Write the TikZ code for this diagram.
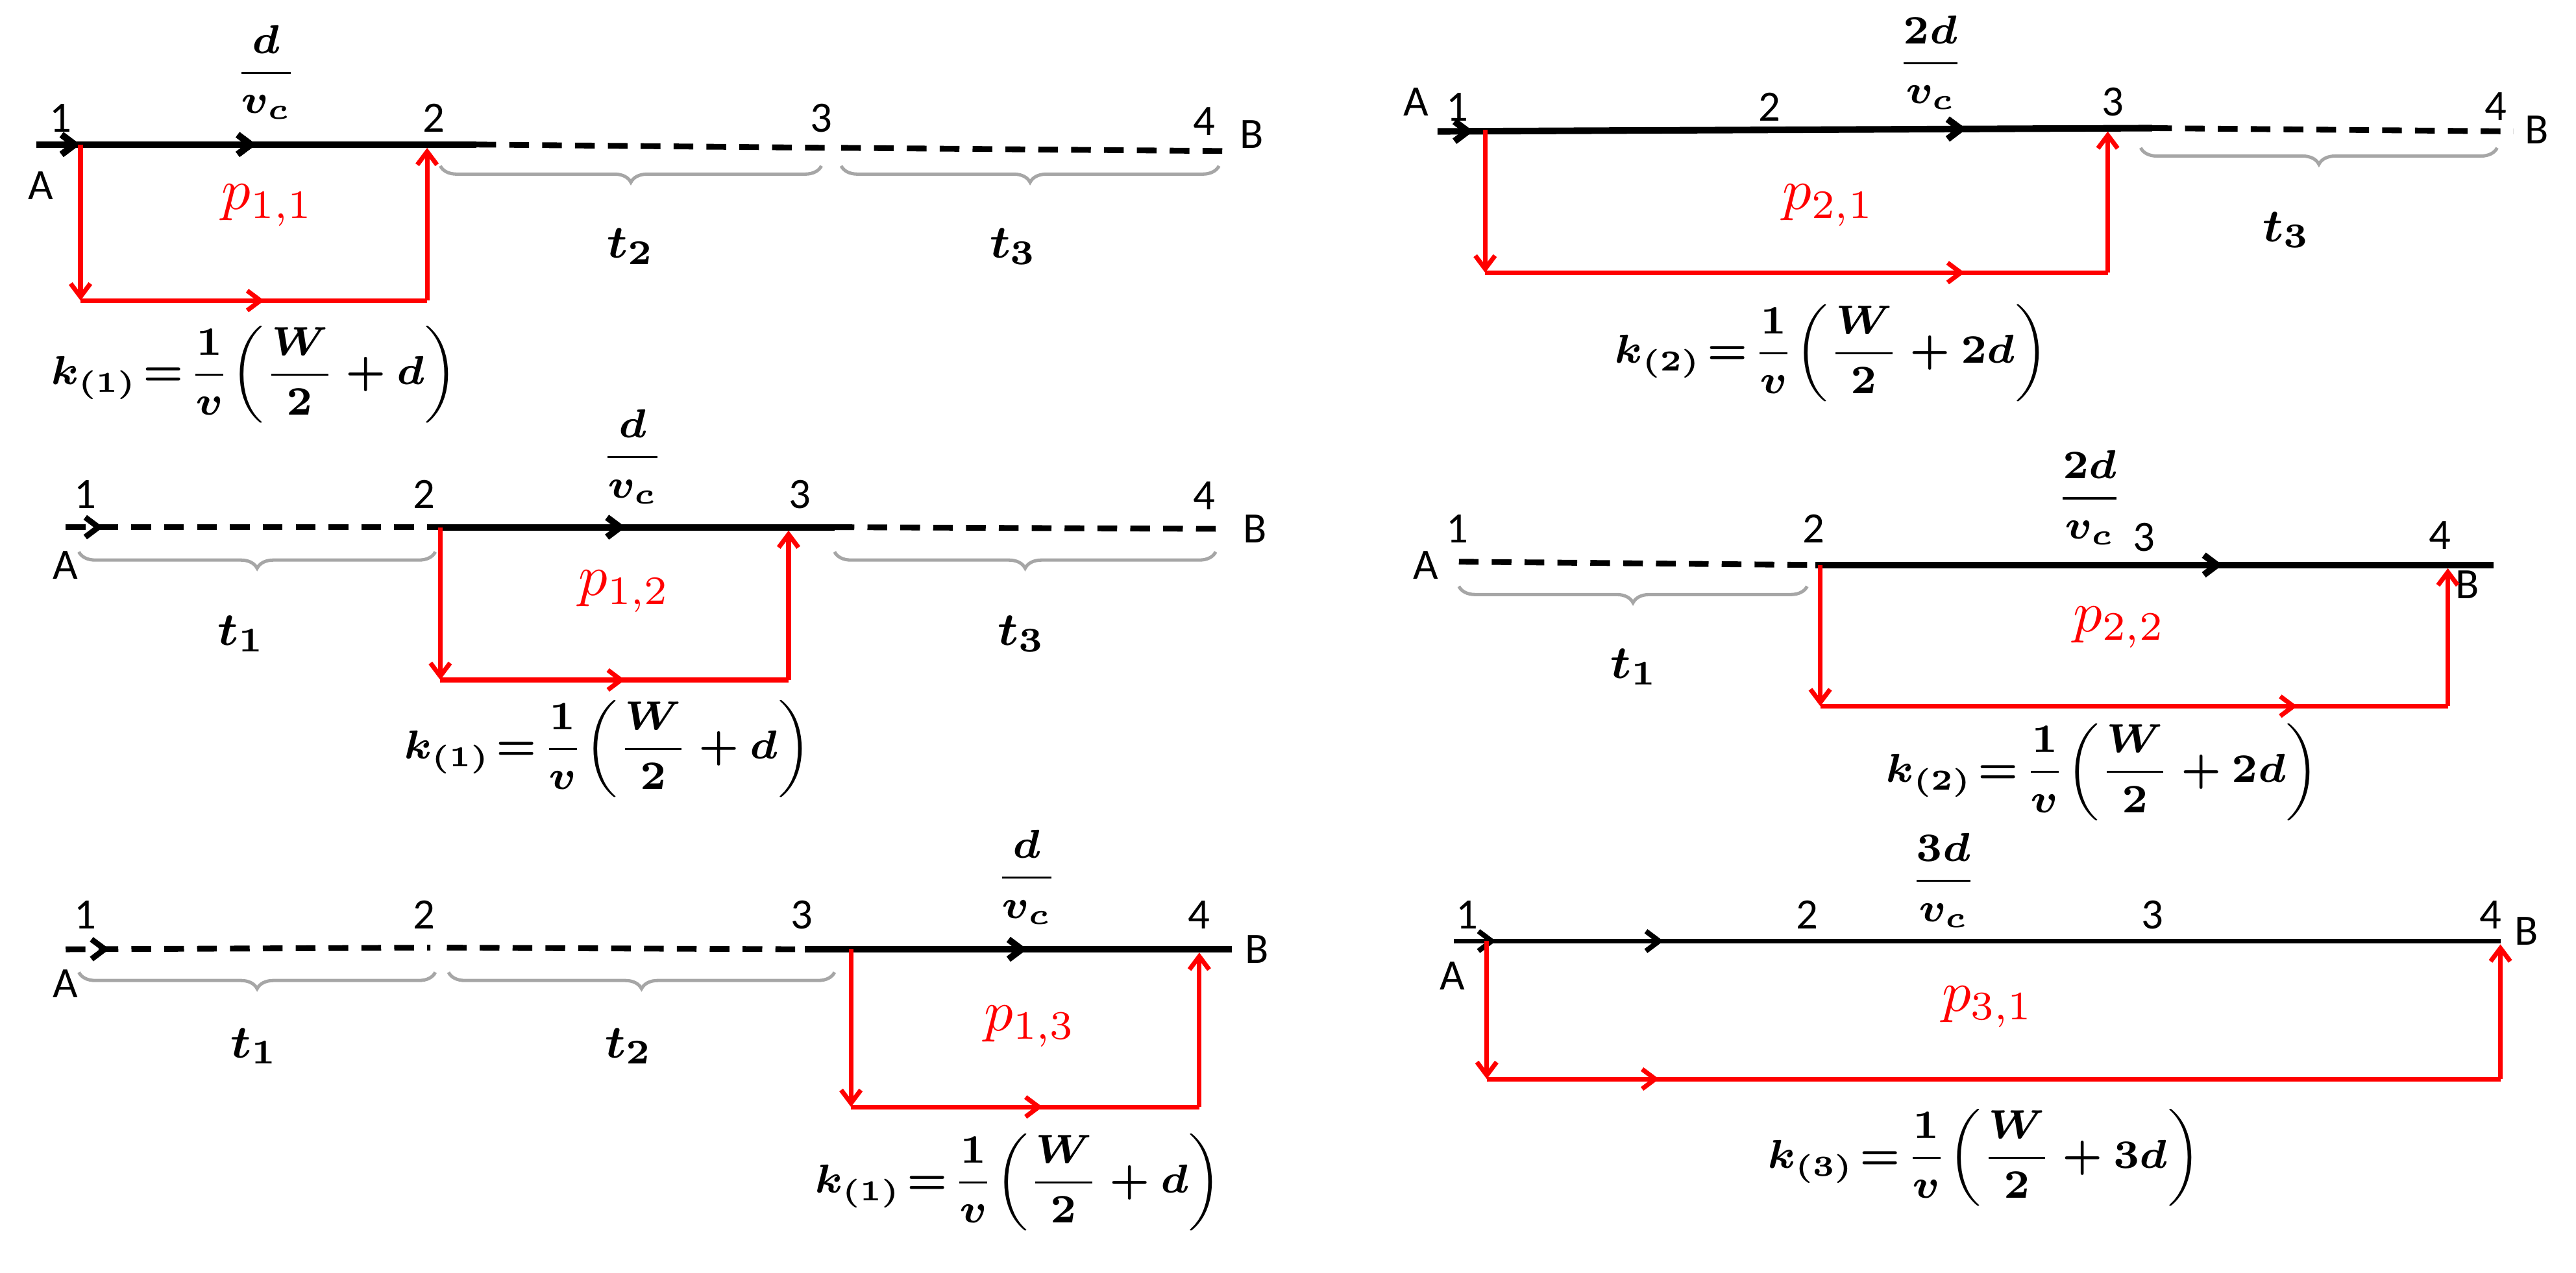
\documentclass[tikz,border=0pt]{standalone}
\usepackage{amsmath,bm}
\usepackage{fontspec}
\newfontfamily\lab{Carlito}
\usetikzlibrary{arrows.meta,decorations.markings,decorations.pathreplacing}
\begin{document}
\begin{tikzpicture}[x=0.1mm,y=-0.1mm,
  >={Straight Barb[length=0.8mm,width=1.2mm]},
  lb/.style={font=\lab\fontsize{7.5}{8}\selectfont,inner sep=0pt},
  fr/.style={font=\fontsize{7}{8}\selectfont,inner sep=0pt},
  pl/.style={font=\fontsize{10}{11}\selectfont,text=red,inner sep=0pt},
  tl/.style={font=\fontsize{8.5}{10}\selectfont,inner sep=0pt},
  kf/.style={font=\fontsize{7}{8}\selectfont,inner sep=0pt},
  sol/.style={line width=0.4mm,black},
  dsh/.style={line width=0.35mm,black,dash pattern=on 1.2mm off 0.8mm},
  red/.style={line width=0.28mm,draw=red},
  am/.style={postaction={decorate},decoration={markings,mark=at position #1 with {\arrow{>}}}},
  br/.style={draw=gray!70,line width=0.2mm,decorate,decoration={brace,mirror,amplitude=1mm}}]
\useasboundingbox (0,0) rectangle (1568,775);
% ---------- Panel 1
\coordinate (a0) at (22,88); \coordinate (a1) at (49,88); \coordinate (a2) at (260,88);
\coordinate (a2e) at (290,88); \coordinate (a3) at (505,90); \coordinate (a4) at (748,92);
\draw[sol,am=0.1,am=0.5] (a0) -- (a2e);
\draw[dsh] (a2e) -- (a3); \draw[dsh] (512,90) -- (a4);
\node[lb] (n1) at (37,72) {1}; \node[lb] (n2) at (264,72) {2};
\node[lb] (n3) at (500,72) {3}; \node[lb] (n4) at (733,74) {4};
\node[lb] (nA) at (25,113) {A}; \node[lb] (nB) at (762,82) {B};
\node[fr] (f1) at (162,44) {$\displaystyle\bm{\frac{d}{v_c}}$};
\coordinate (r1) at (49,183); \coordinate (r2) at (260,183);
\draw[red,->] (a1) -- (r1); \draw[red,am=0.53] (r1) -- (r2); \draw[red,->] (r2) -- (260,90);
\node[pl] (p1) at (163,125) {$p_{1,1}$};
\draw[br] (268,101) -- (500,101); \draw[br] (512,101) -- (742,101);
\node[tl] (t2a) at (384,150) {$\bm{t_2}$}; \node[tl] (t3a) at (617,150) {$\bm{t_3}$};
\node[kf] (k1) at (155,228) {$\displaystyle\bm{k_{(1)}\!=\!\frac{1}{v}\!\left(\frac{W}{2}+d\right)}$};
% ---------- Panel 2
\coordinate (b0) at (40,321); \coordinate (b2) at (268,321); \coordinate (b3) at (508,321);
\coordinate (b4) at (742,322);
\draw[dsh,am=0.1] (b0) -- (b2); \draw[sol,am=0.47] (b2) -- (b3); \draw[dsh] (b3) -- (b4);
\node[lb] (m1) at (52,301) {1}; \node[lb] (m2) at (258,301) {2};
\node[lb] (m3) at (487,301) {3}; \node[lb] (m4) at (733,302) {4};
\node[lb] (mA) at (40,344) {A}; \node[lb] (mB) at (764,322) {B};
\node[fr] (f2) at (385,278) {$\displaystyle\bm{\frac{d}{v_c}}$};
\coordinate (s1) at (268,414); \coordinate (s2) at (480,414);
\draw[red,->] (b2) -- (s1); \draw[red,am=0.53] (s1) -- (s2); \draw[red,->] (s2) -- (480,323);
\node[pl] (p2) at (380,360) {$p_{1,2}$};
\draw[br] (48,336) -- (265,336); \draw[br] (508,336) -- (740,336);
\node[tl] (t1b) at (147,386) {$\bm{t_1}$}; \node[tl] (t3b) at (622,386) {$\bm{t_3}$};
\node[kf] (k2) at (370,456) {$\displaystyle\bm{k_{(1)}\!=\!\frac{1}{v}\!\left(\frac{W}{2}+d\right)}$};
% ---------- Panel 3
\coordinate (c0) at (40,578); \coordinate (c2) at (262,577); \coordinate (c2b) at (272,577);
\coordinate (c3) at (490,578); \coordinate (c4) at (750,578);
\draw[dsh,am=0.12] (c0) -- (c2); \draw[dsh] (c2b) -- (c3); \draw[sol,am=0.52] (c3) -- (c4);
\node[lb] (o1) at (52,557) {1}; \node[lb] (o2) at (258,557) {2};
\node[lb] (o3) at (488,557) {3}; \node[lb] (o4) at (730,557) {4};
\node[lb] (oA) at (40,599) {A}; \node[lb] (oB) at (765,578) {B};
\node[fr] (f3) at (625,534) {$\displaystyle\bm{\frac{d}{v_c}}$};
\coordinate (c1) at (518,578); \coordinate (u1) at (518,674); \coordinate (u2) at (730,674);
\draw[red,->] (c1) -- (u1); \draw[red,am=0.55] (u1) -- (u2); \draw[red,->] (u2) -- (730,580);
\node[pl] (p3) at (627,625) {$p_{1,3}$};
\draw[br] (48,592) -- (265,592); \draw[br] (273,592) -- (508,592);
\node[tl] (t1c) at (155,637) {$\bm{t_1}$}; \node[tl] (t2c) at (383,637) {$\bm{t_2}$};
\node[kf] (k3) at (620,720) {$\displaystyle\bm{k_{(1)}\!=\!\frac{1}{v}\!\left(\frac{W}{2}+d\right)}$};
% ---------- Panel 4
\coordinate (d0) at (875,80); \coordinate (d1) at (904,79); \coordinate (d3) at (1283,78);
\coordinate (d3e) at (1310,78); \coordinate (d4) at (1530,80);
\draw[sol,am=0.05,am=0.74] (d0) -- (d3e); \draw[dsh] (d3e) -- (d4);
\node[lb] (q1) at (887,65) {1}; \node[lb] (q2) at (1077,65) {2};
\node[lb] (q3) at (1286,62) {3}; \node[lb] (q4) at (1519,65) {4};
\node[lb] (qA) at (862,62) {A}; \node[lb] (qB) at (1544,79) {B};
\node[fr] (f4) at (1175,38) {$\displaystyle\bm{\frac{2d}{v_c}}$};
\coordinate (v1) at (904,166); \coordinate (v2) at (1283,166);
\draw[red,->] (d1) -- (v1); \draw[red,am=0.77] (v1) -- (v2); \draw[red,->] (v2) -- (1283,80);
\node[pl] (p4) at (1113,125) {$p_{2,1}$};
\draw[br] (1303,90) -- (1520,90);
\node[tl] (t3d) at (1392,140) {$\bm{t_3}$};
\node[kf] (k4) at (1115,215) {$\displaystyle\bm{k_{(2)}\!=\!\frac{1}{v}\!\left(\frac{W}{2}+2d\right)}$};
% ---------- Panel 5
\coordinate (e0) at (888,342); \coordinate (e2) at (1105,344); \coordinate (e4) at (1518,344);
\draw[dsh] (e0) -- (e2); \draw[sol,am=0.6] (e2) -- (e4);
\node[lb] (w1) at (887,322) {1}; \node[lb] (w2) at (1104,322) {2};
\node[lb] (w3) at (1305,327) {3}; \node[lb] (w4) at (1485,326) {4};
\node[lb] (wA) at (868,344) {A}; \node[lb] (wB) at (1502,356) {B};
\node[fr] (f5) at (1272,303) {$\displaystyle\bm{\frac{2d}{v_c}}$};
\coordinate (x1) at (1108,344); \coordinate (x2) at (1108,430); \coordinate (x3) at (1490,430);
\draw[red,->] (x1) -- (x2); \draw[red,am=0.76] (x2) -- (x3); \draw[red,->] (x3) -- (1490,346);
\node[pl] (p5) at (1290,382) {$p_{2,2}$};
\draw[br] (888,357) -- (1100,357);
\node[tl] (t1e) at (995,406) {$\bm{t_1}$};
\node[kf] (k5) at (1280,470) {$\displaystyle\bm{k_{(2)}\!=\!\frac{1}{v}\!\left(\frac{W}{2}+2d\right)}$};
% ---------- Panel 6
\coordinate (g0) at (885,573); \coordinate (g1) at (905,573); \coordinate (g4) at (1522,573);
\draw[line width=0.3mm,am=0.04,am=0.2] (g0) -- (g4);
\node[lb] (y1) at (893,557) {1}; \node[lb] (y2) at (1100,557) {2};
\node[lb] (y3) at (1310,557) {3}; \node[lb] (y4) at (1516,557) {4};
\node[lb] (yA) at (884,594) {A}; \node[lb] (yB) at (1538,567) {B};
\node[fr] (f6) at (1183,536) {$\displaystyle\bm{\frac{3d}{v_c}}$};
\coordinate (z1) at (905,657); \coordinate (z2) at (1522,657);
\draw[red,->] (g1) -- (z1); \draw[red,am=0.17] (z1) -- (z2); \draw[red,->] (z2) -- (1522,575);
\node[pl] (p6) at (1210,613) {$p_{3,1}$};
\node[kf] (k6) at (1208,705) {$\displaystyle\bm{k_{(3)}\!=\!\frac{1}{v}\!\left(\frac{W}{2}+3d\right)}$};
\end{tikzpicture}
\end{document}
